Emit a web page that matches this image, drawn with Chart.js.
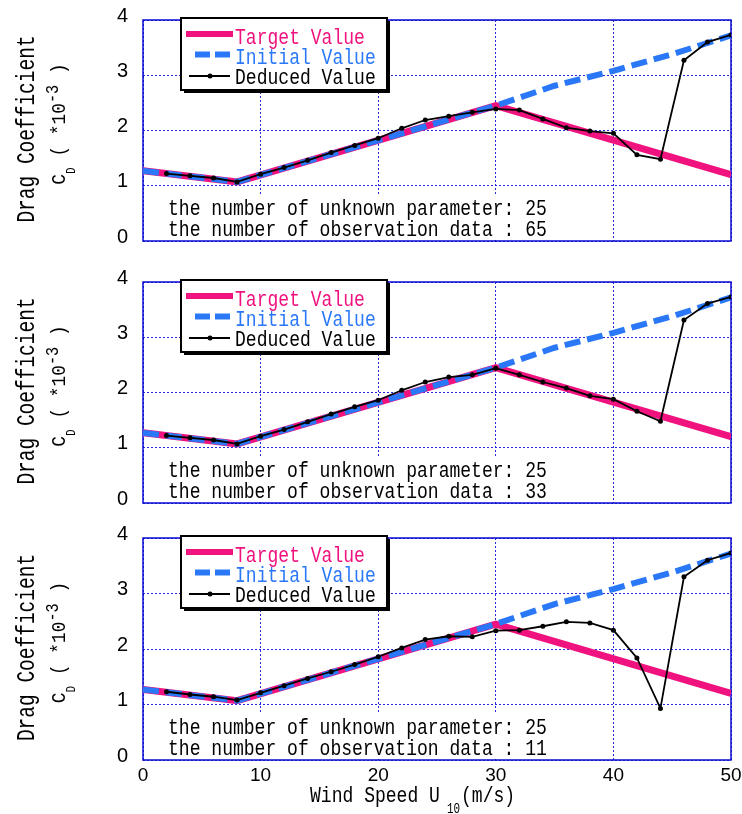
<!DOCTYPE html>
<html>
<head>
<meta charset="utf-8">
<script src="https://cdn.jsdelivr.net/npm/chart.js@4/dist/chart.umd.min.js"></script>
<style>
  body { margin: 0; background: #fff; }
  #wrap { position: relative; width: 742px; height: 814px; }
  canvas { position: absolute; left: 0; }
</style>
</head>
<body>
<div id="wrap">
  <canvas id="panel1" width="742" height="260" style="top:0px"></canvas>
  <canvas id="panel2" width="742" height="260" style="top:262px"></canvas>
  <canvas id="panel3" width="742" height="296" style="top:518px"></canvas>
</div>
<script>
// wind speed (m/s) and drag coefficient (*10^-3)
const targetSpeeds = [0, 8, 30, 50];
const targetValues = [1.27, 1.07, 2.45, 1.2];

const initialSpeeds = [0, 8, 30, 35, 40, 45, 50];
const initialValues = [1.27, 1.07, 2.45, 2.81, 3.08, 3.38, 3.72];

const deducedSpeeds = [2, 4, 6, 8, 10, 12, 14, 16, 18, 20, 22, 24, 26, 28, 30, 32, 34, 36, 38, 40, 42, 44, 46, 48, 50];
const deduced65 = [1.22, 1.18, 1.14, 1.07, 1.21, 1.33, 1.46, 1.60, 1.73, 1.86, 2.04, 2.19, 2.26, 2.33, 2.39, 2.37, 2.21, 2.05, 1.99, 1.95, 1.56, 1.48, 3.27, 3.60, 3.73];
const deduced33 = [1.22, 1.18, 1.14, 1.07, 1.21, 1.33, 1.47, 1.61, 1.74, 1.86, 2.04, 2.19, 2.28, 2.32, 2.44, 2.32, 2.19, 2.08, 1.94, 1.88, 1.66, 1.48, 3.31, 3.61, 3.73];
const deduced11 = [1.23, 1.18, 1.14, 1.08, 1.21, 1.34, 1.47, 1.59, 1.72, 1.86, 2.02, 2.17, 2.23, 2.22, 2.33, 2.34, 2.41, 2.49, 2.47, 2.34, 1.84, 0.93, 3.30, 3.60, 3.73];

const seriesLabels = ['Target Value', 'Initial Value', 'Deduced Value'];
const unknownParams = 25;
const observationCounts = [65, 33, 11];

const xTicks = [0, 10, 20, 30, 40, 50];
const yTicks = [0, 1, 2, 3, 4];

const PINK = '#f0127e';
const BLUE = '#2a78f8';
const GRID = '#2828d8';
const MONO = '"Liberation Mono", "DejaVu Sans Mono", monospace';

function toPoints(xs, ys) {
    return xs.map((x, i) => ({ x: x, y: ys[i] }));
}

// narrow mono text, returns drawn width
function monoText(ctx, str, x, y, size, sx, color) {
    ctx.save();
    ctx.translate(x, y);
    ctx.scale(sx, 1);
    ctx.font = size + 'px ' + MONO;
    ctx.fillStyle = color || '#000';
    ctx.textBaseline = 'alphabetic';
    ctx.textAlign = 'left';
    ctx.fillText(str, 0, 0);
    const w = ctx.measureText(str).width * sx;
    ctx.restore();
    return w;
}

function runsWidth(ctx, runs) {
    let w = 0;
    runs.forEach(r => {
        ctx.font = r.size + 'px ' + MONO;
        w += ctx.measureText(r.t).width * r.sx + (r.gap || 0);
    });
    return w;
}

function drawRuns(ctx, runs, x, y) {
    let cur = x;
    runs.forEach(r => {
        cur += monoText(ctx, r.t, cur, y + (r.dy || 0), r.size, r.sx, r.color) + (r.gap || 0);
    });
}

function drawLegend(ctx, a, datasets) {
    const L = 181, T = a.top - 2, W = 206, H = 72;
    ctx.fillStyle = '#000';
    ctx.fillRect(L + 3, T + 3, W, H);
    ctx.fillStyle = '#fff';
    ctx.fillRect(L, T, W, H);
    ctx.strokeStyle = '#000';
    ctx.lineWidth = 2;
    ctx.strokeRect(L, T, W, H);

    // target
    ctx.lineCap = 'butt';
    ctx.strokeStyle = PINK;
    ctx.lineWidth = 6;
    ctx.beginPath();
    ctx.moveTo(186, a.top + 14);
    ctx.lineTo(233, a.top + 14);
    ctx.stroke();
    // initial
    ctx.strokeStyle = BLUE;
    ctx.setLineDash([15, 5]);
    ctx.beginPath();
    ctx.moveTo(195, a.top + 34.5);
    ctx.lineTo(232, a.top + 34.5);
    ctx.stroke();
    ctx.setLineDash([]);
    // deduced
    ctx.strokeStyle = '#000';
    ctx.lineWidth = 1.8;
    ctx.beginPath();
    ctx.moveTo(189, a.top + 56);
    ctx.lineTo(230, a.top + 56);
    ctx.stroke();
    ctx.fillStyle = '#000';
    ctx.beginPath();
    ctx.arc(210, a.top + 56, 2.5, 0, Math.PI * 2);
    ctx.fill();

    const colors = [PINK, BLUE, '#000'];
    const bases = [23.5, 44, 63.5];
    datasets.forEach((ds, i) => {
        monoText(ctx, ds.label, 235, a.top + bases[i], 22, 0.82, colors[i]);
    });
}

function drawYTitle(ctx, a) {
    const cy = (a.top + a.bottom) / 2;
    const line1 = [{ t: 'Drag Coefficient', size: 25, sx: 0.78 }];
    const line2 = [
        { t: 'C', size: 21, sx: 0.85 },
        { t: 'D', size: 13, sx: 0.85, dy: 10 },
        { t: ' ( *10', size: 21, sx: 0.85 },
        { t: '-3', size: 19, sx: 0.8, dy: -7 },
        { t: ' )', size: 21, sx: 0.85 }
    ];
    ctx.save();
    ctx.translate(34, cy - 1.5);
    ctx.rotate(-Math.PI / 2);
    drawRuns(ctx, line1, -runsWidth(ctx, line1) / 2, 0);
    ctx.restore();

    ctx.save();
    ctx.translate(65, cy - 6.5);
    ctx.rotate(-Math.PI / 2);
    drawRuns(ctx, line2, -runsWidth(ctx, line2) / 2, 0);
    ctx.restore();
}

function drawXTitle(ctx, a) {
    const runs = [
        { t: 'Wind Speed U', size: 22, sx: 0.82, gap: 7 },
        { t: '10', size: 14, sx: 0.78, dy: 11, gap: 1 },
        { t: '(m/s)', size: 22, sx: 0.82 }
    ];
    drawRuns(ctx, runs, 310, a.bottom + 42);
}

const panelDecor = {
    id: 'panelDecor',
    beforeDatasetsDraw(chart, args, opts) {
        const ctx = chart.ctx;
        const a = chart.chartArea;
        ctx.save();
        ctx.fillStyle = '#fff';
        ctx.fillRect(a.left + 16, a.bottom - 46, 392, 45);
        ctx.strokeStyle = '#0a0ad0';
        ctx.lineWidth = 1.5;
        ctx.strokeRect(a.left, a.top, a.right - a.left, a.bottom - a.top);
        monoText(ctx, 'the number of unknown parameter: ' + unknownParams, a.left + 25, a.bottom - 26, 22, 0.82);
        monoText(ctx, 'the number of observation data : ' + opts.obs, a.left + 25, a.bottom - 5.5, 22, 0.82);
        ctx.restore();
    },
    afterDraw(chart, args, opts) {
        const ctx = chart.ctx;
        const a = chart.chartArea;
        ctx.save();
        drawLegend(ctx, a, chart.data.datasets);
        drawYTitle(ctx, a);
        if (opts.xTitle) drawXTitle(ctx, a);
        ctx.restore();
    }
};

function makePanel(id, deduced, obs, showX, xHeight) {
    const ctx = document.getElementById(id).getContext('2d');
    return new Chart(ctx, {
        type: 'line',
        data: {
            datasets: [
                {
                    label: seriesLabels[0],
                    data: toPoints(targetSpeeds, targetValues),
                    borderColor: PINK,
                    borderWidth: 7,
                    pointRadius: 0,
                    tension: 0,
                    order: 2
                },
                {
                    label: seriesLabels[1],
                    data: toPoints(initialSpeeds, initialValues),
                    borderColor: BLUE,
                    borderWidth: 6,
                    borderDash: [16, 7],
                    pointRadius: 0,
                    tension: 0,
                    order: 1
                },
                {
                    label: seriesLabels[2],
                    data: toPoints(deducedSpeeds, deduced),
                    borderColor: '#000',
                    backgroundColor: '#000',
                    borderWidth: 1.8,
                    pointRadius: 2.5,
                    pointBorderWidth: 0,
                    tension: 0,
                    order: 0
                }
            ]
        },
        options: {
            responsive: false,
            animation: false,
            layout: { padding: { top: 20, right: 11, left: 0, bottom: 0 } },
            plugins: {
                legend: { display: false },
                tooltip: { enabled: false },
                panelDecor: { obs: obs, xTitle: showX }
            },
            scales: {
                x: {
                    type: 'linear',
                    min: 0,
                    max: 50,
                    afterBuildTicks: s => { s.ticks = xTicks.map(v => ({ value: v })); },
                    ticks: {
                        display: showX,
                        color: '#000',
                        font: { family: 'Liberation Sans', size: 19 },
                        padding: 4,
                        maxRotation: 0
                    },
                    grid: { color: GRID, lineWidth: 1, drawTicks: false },
                    border: { display: false, dash: [2, 2] },
                    afterFit: s => {
                        s.height = xHeight;
                        s.paddingLeft = 0;
                        s.paddingRight = 0;
                    }
                },
                y: {
                    min: 0,
                    max: 4,
                    afterBuildTicks: s => { s.ticks = yTicks.map(v => ({ value: v })); },
                    ticks: {
                        color: '#000',
                        font: { family: 'Liberation Sans', size: 20 },
                        padding: 15,
                        labelOffset: -4
                    },
                    grid: { color: GRID, lineWidth: 1, drawTicks: false },
                    border: { display: false, dash: [2, 2] },
                    afterFit: s => {
                        s.width = 143;
                        s.paddingTop = 0;
                        s.paddingBottom = 0;
                    }
                }
            }
        },
        plugins: [panelDecor]
    });
}

makePanel('panel1', deduced65, observationCounts[0], false, 19);
makePanel('panel2', deduced33, observationCounts[1], false, 19);
makePanel('panel3', deduced11, observationCounts[2], true, 54);
</script>
</body>
</html>
